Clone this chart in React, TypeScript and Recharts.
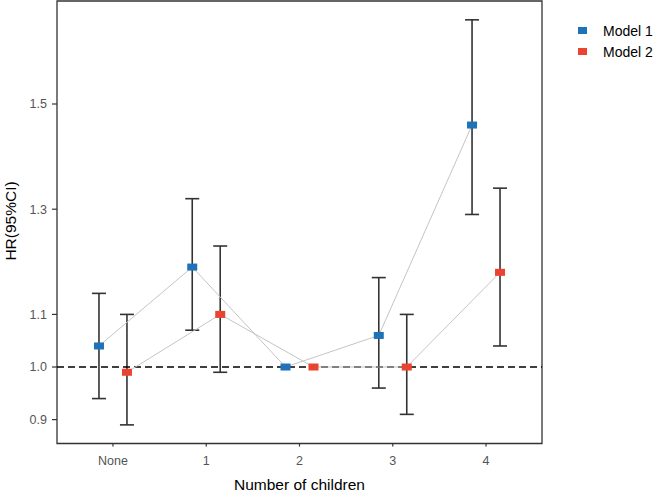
import { ComposedChart, ErrorBar, Label, ReferenceArea, ReferenceLine, Scatter, XAxis, YAxis } from "recharts";

const categories = ["None", "1", "2", "3", "4"];

const model1Hr = [1.04, 1.19, 1.0, 1.06, 1.46];
const model1Lo = [0.94, 1.07, null, 0.96, 1.29];
const model1Hi = [1.14, 1.32, null, 1.17, 1.66];

const model2Hr = [0.99, 1.1, 1.0, 1.0, 1.18];
const model2Lo = [0.89, 0.99, null, 0.91, 1.04];
const model2Hi = [1.1, 1.23, null, 1.1, 1.34];

const yTicks = [0.9, 1.0, 1.1, 1.3, 1.5];

const BLUE = "#1f72b7";
const RED = "#ea4330";
const FONT = "'Liberation Sans', Arial, sans-serif";
const DODGE = 0.15;

type Pt = { x: number; y: number; err?: [number, number] };

function points(hr: number[], shift: number): Pt[] {
  return hr.map((v, i) => ({ x: i + shift, y: v }));
}

function ciPoints(hr: number[], lo: (number | null)[], hi: (number | null)[], shift: number): Pt[] {
  const out: Pt[] = [];
  hr.forEach((v, i) => {
    const l = lo[i];
    const h = hi[i];
    if (l == null || h == null) return;
    out.push({ x: i + shift, y: v, err: [v - l, h - v] });
  });
  return out;
}

const m1 = points(model1Hr, -DODGE);
const m2 = points(model2Hr, DODGE);
const m1ci = ciPoints(model1Hr, model1Lo, model1Hi, -DODGE);
const m2ci = ciPoints(model2Hr, model2Lo, model2Hi, DODGE);

function square(color: string) {
  return (p: any) => <rect x={p.cx - 5} y={p.cy - 3.5} width={10} height={7} fill={color} />;
}

const nothing = () => <g />;

function LegendBox() {
  const items = [
    { name: "Model 1", color: BLUE },
    { name: "Model 2", color: RED },
  ];
  return (
    <div style={{ position: "absolute", left: 578, top: 20, fontFamily: FONT, fontSize: 14, color: "#000" }}>
      {items.map((it) => (
        <div key={it.name} style={{ display: "flex", alignItems: "center", height: 21 }}>
          <span style={{ display: "inline-block", width: 9, height: 7, background: it.color, marginRight: 16 }} />
          <span>{it.name}</span>
        </div>
      ))}
    </div>
  );
}

export default function App() {
  return (
    <div style={{ position: "absolute", left: 0, top: 0, width: 655, height: 492, background: "#fff" }}>
      <ComposedChart width={655} height={492} margin={{ top: 1, right: 113, left: 0, bottom: 0 }}>
        <XAxis
          type="number"
          dataKey="x"
          domain={[-0.6, 4.6]}
          ticks={[0, 1, 2, 3, 4]}
          allowDataOverflow
          tickFormatter={(v) => categories[Math.round(v)] ?? ""}
          height={48.5}
          tickSize={3}
          tickMargin={10}
          axisLine={false}
          tickLine={{ stroke: "#333", strokeWidth: 1.2 }}
          tick={{ fill: "#555", fontSize: 12.5, fontFamily: FONT }}
        >
          <Label
            content={() => (
              <text x={299.5} y={490} textAnchor="middle" fontSize={15.5} fontFamily={FONT} fill="#000">
                Number of children
              </text>
            )}
          />
        </XAxis>
        <YAxis
          type="number"
          dataKey="y"
          domain={[0.8546, 1.6958]}
          ticks={yTicks}
          allowDataOverflow
          width={57}
          tickSize={5}
          tickMargin={5}
          axisLine={false}
          tickLine={{ stroke: "#333", strokeWidth: 1.2 }}
          tickFormatter={(v) => Number(v).toFixed(1)}
          tick={{ fill: "#555", fontSize: 12.5, fontFamily: FONT }}
        >
          <Label
            content={() => (
              <text
                x={16}
                y={221}
                transform="rotate(-90 16 221)"
                textAnchor="middle"
                fontSize={15.5}
                fontFamily={FONT}
                fill="#000"
              >
                HR(95%CI)
              </text>
            )}
          />
        </YAxis>
        <ReferenceArea
          x1={-0.6}
          x2={4.6}
          y1={0.8546}
          y2={1.6958}
          fill="none"
          stroke="#333"
          strokeWidth={1.3}
          ifOverflow="extendDomain"
        />
        <Scatter data={m1ci} shape={nothing} legendType="none" isAnimationActive={false}>
          <ErrorBar dataKey="err" direction="y" width={7} stroke="#333" strokeWidth={1.6} isAnimationActive={false} />
        </Scatter>
        <Scatter data={m2ci} shape={nothing} legendType="none" isAnimationActive={false}>
          <ErrorBar dataKey="err" direction="y" width={7} stroke="#333" strokeWidth={1.6} isAnimationActive={false} />
        </Scatter>
        <Scatter
          name="Model 1"
          data={m1}
          fill={BLUE}
          line={{ stroke: "#c4c4c4", strokeWidth: 1 }}
          lineType="joint"
          shape={square(BLUE)}
          isAnimationActive={false}
        />
        <Scatter
          name="Model 2"
          data={m2}
          fill={RED}
          line={{ stroke: "#c4c4c4", strokeWidth: 1 }}
          lineType="joint"
          shape={square(RED)}
          isAnimationActive={false}
        />
        <ReferenceLine y={1} stroke="#000" strokeWidth={1.4} strokeDasharray="7 4" />
      </ComposedChart>
      <LegendBox />
    </div>
  );
}
